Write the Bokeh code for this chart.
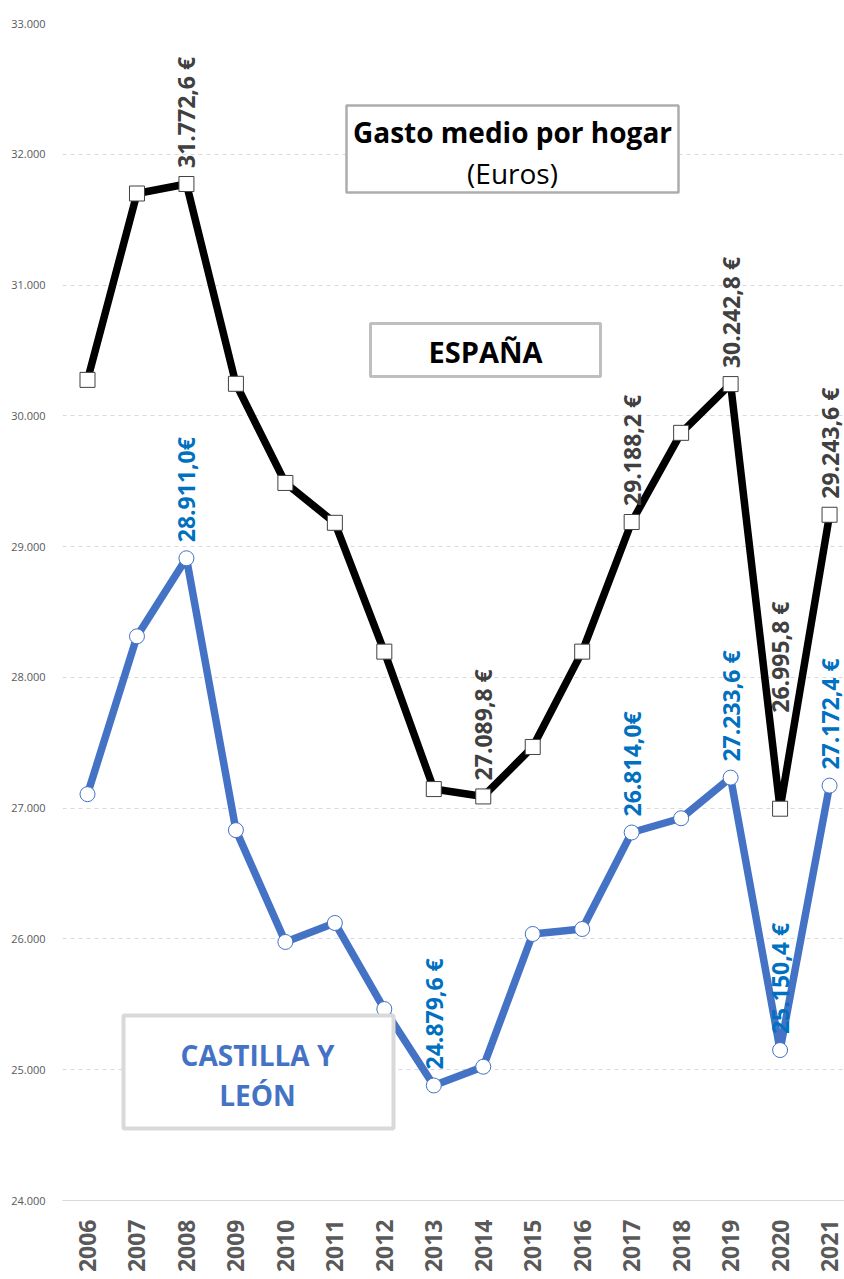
import math
from bokeh.plotting import figure
from bokeh.models import Range1d, FixedTicker, ColumnDataSource, BoxAnnotation
from bokeh.core.properties import value
from bokeh.embed import file_html
from bokeh.resources import INLINE

years = list(range(2006, 2022))
espana = [30275, 31700, 31772.6, 30245, 29487, 29182, 28197, 27146, 27089.8,
          27468, 28197, 29188.2, 29870, 30242.8, 26995.8, 29243.6]
cyl = [27107, 28314, 28911.0, 26832, 25977, 26122, 25464, 24879.6, 25023,
       26038, 26076, 26814.0, 26923, 27233.6, 25150.4, 27172.4]

esp_label_years = [2008, 2014, 2017, 2019, 2020, 2021]
esp_label_text = ["31.772,6 €", "27.089,8 €", "29.188,2 €", "30.242,8 €", "26.995,8 €", "29.243,6 €"]
cyl_label_years = [2008, 2013, 2017, 2019, 2020, 2021]
cyl_label_text = ["28.911,0€", "24.879,6 €", "26.814,0€", "27.233,6 €", "25.150,4 €", "27.172,4 €"]

y_ticks = [24000, 25000, 26000, 27000, 28000, 29000, 30000, 31000, 32000, 33000]
y_tick_labels = ["24.000", "25.000", "26.000", "27.000", "28.000", "29.000",
                 "30.000", "31.000", "32.000", "33.000"]

title1 = "Gasto medio por hogar"
title2 = "(Euros)"
label_esp = "ESPAÑA"
label_cyl = ["CASTILLA Y", "LEÓN"]

FONT = "Open Sans"
W, H = 844, 1279
BL, BT, BB = 62, 23, 79
PXX = 49.47
x0 = 2006 - 25.0 / PXX
x1 = x0 + (W - BL) / PXX
y0, y1 = 24000, 33000
PXY = (H - BT - BB) / (y1 - y0)

p = figure(width=W, height=H, output_backend="svg", toolbar_location=None,
           x_range=Range1d(x0, x1), y_range=Range1d(y0, y1),
           min_border_left=BL, min_border_right=0, min_border_top=BT,
           min_border_bottom=BB)
p.outline_line_color = None
p.background_fill_color = "white"
p.border_fill_color = "white"

# chart-area border
p.add_layout(BoxAnnotation(left=13, right=2000, top=8, bottom=3000,
                           left_units="canvas", right_units="canvas",
                           top_units="canvas", bottom_units="canvas",
                           fill_alpha=0, line_color="#D9D9D9", line_width=1,
                           level="underlay"))

# axes
p.yaxis.ticker = FixedTicker(ticks=y_ticks)
p.yaxis.major_label_overrides = {t: l for t, l in zip(y_ticks, y_tick_labels)}
p.yaxis.axis_line_color = None
p.yaxis.major_tick_line_color = None
p.yaxis.minor_tick_line_color = None
p.yaxis.major_label_text_font = FONT
p.yaxis.major_label_text_font_size = "11px"
p.yaxis.major_label_text_color = "#595959"
p.yaxis.major_label_standoff = 11

p.xaxis.ticker = FixedTicker(ticks=years)
p.xaxis.major_label_orientation = math.pi / 2
p.xaxis.axis_line_color = "#D9D9D9"
p.xaxis.axis_line_width = 1
p.xaxis.major_tick_line_color = None
p.xaxis.minor_tick_line_color = None
p.xaxis.major_label_text_font = FONT
p.xaxis.major_label_text_font_style = "bold"
p.xaxis.major_label_text_font_size = "23px"
p.xaxis.major_label_text_color = "#595959"
p.xaxis.major_label_standoff = 13

p.xgrid.grid_line_color = None
p.ygrid.grid_line_color = "#D9D9D9"
p.ygrid.grid_line_dash = "4 4"
p.ygrid.grid_line_width = 1

# lines
p.line(years, espana, line_color="black", line_width=7.5)
p.scatter(years, espana, marker="square", size=15, fill_color="white",
          line_color="#404040", line_width=1)
p.line(years, cyl, line_color="#4472C4", line_width=7.5)
p.scatter(years, cyl, marker="circle", size=15, fill_color="white",
          line_color="#4472C4", line_width=1)

# data labels
def val_for(yrs, series, ys):
    return [series[yrs.index(y)] for y in ys]

esp_off = [-16 if y != 2020 else -96 for y in esp_label_years]
esp_src = ColumnDataSource(dict(x=esp_label_years, y=val_for(years, espana, esp_label_years),
                                t=esp_label_text, off=esp_off))
p.text(x="x", y="y", text="t", y_offset="off", source=esp_src, angle=math.pi / 2,
       text_align="left", text_baseline="middle", text_color="#404040",
       text_font=value(FONT), text_font_style="bold", text_font_size="23px")

cyl_src = ColumnDataSource(dict(x=cyl_label_years, y=val_for(years, cyl, cyl_label_years),
                                t=cyl_label_text))
p.text(x="x", y="y", text="t", y_offset=-16, source=cyl_src, angle=math.pi / 2,
       text_align="left", text_baseline="middle", text_color="#0070C0",
       text_font=value(FONT), text_font_style="bold", text_font_size="23px")

# helpers: canvas pixel -> data
def dx(px):
    return x0 + (px - BL) / PXX

def dy(py):
    return y1 - (py - BT) / PXY

def box(l, t, r, b, color, width):
    p.quad(left=dx(l), right=dx(r), top=dy(t), bottom=dy(b), fill_color="white",
           line_color=color, line_width=width)

box(346, 105, 678, 192, "#ADADAD", 2.5)
p.text(x=[dx(512)], y=[dy(131)], text=[title1], text_align="center", text_baseline="middle",
       text_color="black", text_font=value(FONT), text_font_style="bold", text_font_size="28px")
p.text(x=[dx(512)], y=[dy(172)], text=[title2], text_align="center", text_baseline="middle",
       text_color="black", text_font=value(FONT), text_font_size="28px")

box(370, 323, 600, 376, "#BFBFBF", 3)
p.text(x=[dx(485)], y=[dy(351)], text=[label_esp], text_align="center", text_baseline="middle",
       text_color="black", text_font=value(FONT), text_font_style="bold", text_font_size="29px")

box(123, 1015, 393, 1128, "#D9D9D9", 4)
p.text(x=[dx(257)], y=[dy(1054)], text=[label_cyl[0]], text_align="center", text_baseline="middle",
       text_color="#4472C4", text_font=value(FONT), text_font_style="bold", text_font_size="28px")
p.text(x=[dx(257)], y=[dy(1094)], text=[label_cyl[1]], text_align="center", text_baseline="middle",
       text_color="#4472C4", text_font=value(FONT), text_font_style="bold", text_font_size="28px")

open("out.html", "w").write(file_html(p, INLINE))
